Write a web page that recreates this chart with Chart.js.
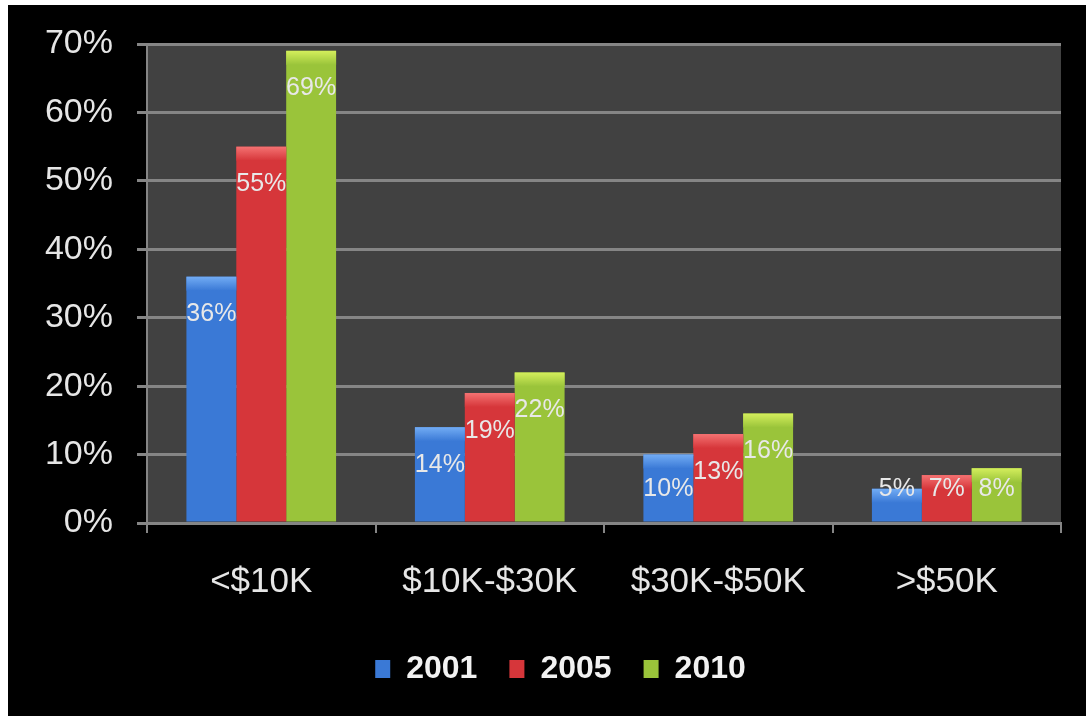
<!DOCTYPE html>
<html>
<head>
<meta charset="utf-8">
<script src="https://cdn.jsdelivr.net/npm/chart.js@4/dist/chart.umd.min.js"></script>
<style>
  html, body { margin: 0; padding: 0; background: #fff; }
  #wrap { position: absolute; left: 8px; top: 5px; width: 1078px; height: 711px; background: #000; }
</style>
</head>
<body>
<div id="wrap"><canvas id="chart" width="1078" height="711"></canvas></div>
<script>
const categories = ["<$10K", "$10K-$30K", "$30K-$50K", ">$50K"];
const years = ["2001", "2005", "2010"];
const share2001 = [36, 14, 10, 5];
const share2005 = [55, 19, 13, 7];
const share2010 = [69, 22, 16, 8];
const yTicks = [0, 10, 20, 30, 40, 50, 60, 70];

const fills = ["#3a79d6", "#d6363a", "#9ac43a"];
const caps = ["#72acf4", "#f47272", "#d4ee5c"];
const FONT = "'Liberation Sans', Arial, sans-serif";

// dark plot panel behind the bars
const panel = {
  id: "panel",
  beforeDraw(chart) {
    const { ctx, chartArea: a } = chart;
    ctx.save();
    ctx.fillStyle = "#414141";
    ctx.fillRect(a.left, a.top, a.right - a.left, a.bottom - a.top);
    ctx.restore();
  }
};

// legend sits a little right of the canvas centre
const legendShift = {
  id: "legendShift",
  afterLayout(chart) {
    if (chart.legend) {
      chart.legend.left += 26;
      chart.legend.right += 26;
    }
  }
};

// lighter top cap on each bar plus the value written inside it
const barDecor = {
  id: "barDecor",
  afterDatasetsDraw(chart) {
    const { ctx } = chart;
    const y = chart.scales.y;
    ctx.save();
    chart.data.datasets.forEach((ds, i) => {
      chart.getDatasetMeta(i).data.forEach((bar, j) => {
        const left = bar.x - bar.width / 2;
        const g = ctx.createLinearGradient(0, bar.y, 0, bar.y + 14);
        g.addColorStop(0, caps[i]);
        g.addColorStop(1, fills[i]);
        ctx.fillStyle = g;
        ctx.fillRect(left, bar.y, bar.width, 14);
        const v = ds.data[j];
        ctx.fillStyle = "#e8e8e8";
        ctx.font = "25px " + FONT;
        ctx.textAlign = "center";
        ctx.textBaseline = "middle";
        ctx.fillText(v + "%", bar.x, y.getPixelForValue(Math.max(v - 5.5, 5)));
      });
    });
    ctx.restore();
  }
};

new Chart(document.getElementById("chart"), {
  type: "bar",
  data: {
    labels: categories,
    datasets: [
      { label: years[0], data: share2001, backgroundColor: fills[0] },
      { label: years[1], data: share2005, backgroundColor: fills[1] },
      { label: years[2], data: share2010, backgroundColor: fills[2] }
    ]
  },
  options: {
    responsive: false,
    animation: false,
    categoryPercentage: 0.655,
    barPercentage: 1,
    layout: { padding: { top: 39, right: 25, bottom: 21, left: 0 } },
    plugins: {
      tooltip: { enabled: false },
      legend: {
        position: "bottom",
        labels: {
          color: "#f2f2f2",
          font: { family: FONT, size: 32, weight: "bold" },
          boxWidth: 15,
          boxHeight: 18,
          padding: 32
        }
      }
    },
    scales: {
      x: {
        offset: true,
        grid: { display: true, drawOnChartArea: false, color: "#858585", lineWidth: 2, tickLength: 10 },
        border: { color: "#858585", width: 2 },
        ticks: {
          color: "#e6e6e6",
          padding: 28,
          font: { family: FONT, size: 35 }
        },
        afterFit(s) { s.height = 98; }
      },
      y: {
        min: 0,
        max: 70,
        afterBuildTicks(s) { s.ticks = yTicks.map(v => ({ value: v })); },
        grid: { color: "#858585", lineWidth: 3, tickLength: 10 },
        border: { color: "#858585", width: 2 },
        ticks: {
          color: "#e6e6e6",
          padding: 24,
          callback: v => v + "%",
          font: { family: FONT, size: 34 }
        },
        afterFit(s) {
          s.width = 139;
          s.paddingTop = 0;
          s.paddingBottom = 0;
        }
      }
    }
  },
  plugins: [panel, legendShift, barDecor]
});
</script>
</body>
</html>
